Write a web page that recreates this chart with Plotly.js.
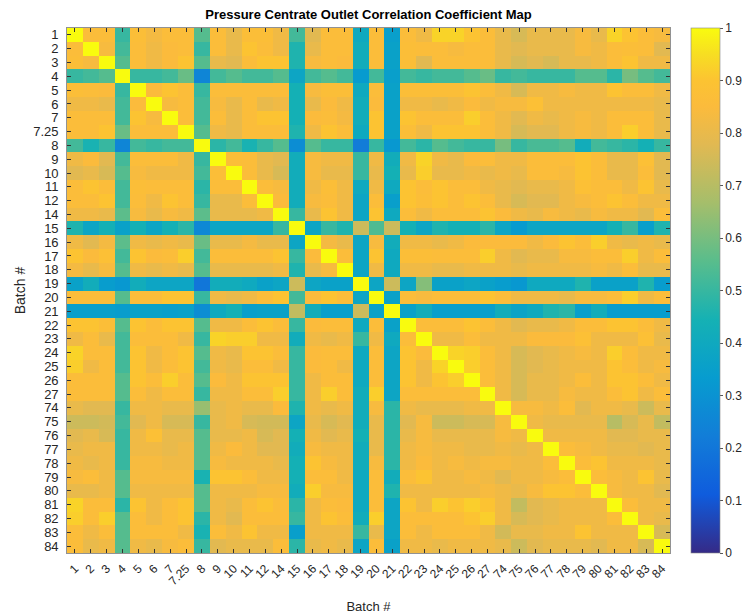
<!DOCTYPE html>
<html>
<head>
<meta charset="utf-8">
<script src="https://cdn.plot.ly/plotly-3.0.1.min.js"></script>
<style>
html,body{margin:0;padding:0;background:#fff;}
#chart{width:742px;height:615px;}
</style>
</head>
<body>
<div id="chart"></div>
<script>
// Batch labels (rows and columns of the correlation map)
const batches = ['1','2','3','4','5','6','7','7.25','8','9','10','11','12','14','15','16','17','18','19','20','21','22','23','24','25','26','27','74','75','76','77','78','79','80','81','82','83','84'];

// Correlation coefficients, one array per row (batch)
const row_1    = [1.00,.86,.86,.50,.87,.83,.86,.86,.55,.86,.80,.87,.87, .82,.52,.78,.86,.86,.40,.86,.35,.86,.82,.93,.93, .90,.86,.80,.76,.80,.80,.80,.84,.80,.93,.90,.86,.84];
const row_2    = [.86,1.00,.84,.52,.86,.82,.85,.86,.50,.86,.80,.90,.86, .82,.46,.80,.86,.86,.42,.86,.36,.87,.86,.86,.84, .86,.86,.80,.78,.80,.80,.80,.84,.82,.86,.87,.86,.78];
const row_3    = [.87,.84,1.00,.55,.86,.82,.85,.90,.55,.80,.78,.86,.90, .90,.46,.84,.86,.85,.42,.86,.36,.87,.78,.86,.86, .86,.86,.80,.76,.78,.76,.80,.80,.82,.86,.90,.82,.82];
const row_4    = [.50,.52,.55,1.00,.50,.50,.52,.58,.25,.52,.55,.52,.52, .55,.38,.52,.55,.52,.33,.52,.35,.52,.50,.52,.52, .55,.58,.50,.52,.50,.50,.50,.55,.55,.48,.60,.55,.52];
const row_5    = [.87,.86,.85,.50,1.00,.85,.90,.86,.50,.86,.86,.86,.86, .86,.44,.84,.87,.87,.40,.86,.36,.87,.87,.87,.87, .90,.86,.82,.76,.82,.82,.84,.82,.82,.90,.86,.86,.82];
const row_6    = [.82,.82,.80,.52,.85,1.00,.84,.86,.52,.84,.80,.86,.80, .82,.44,.80,.85,.82,.42,.85,.36,.82,.82,.80,.82, .85,.82,.84,.84,.88,.82,.82,.82,.82,.82,.82,.82,.80];
const row_7    = [.86,.86,.86,.52,.90,.84,1.00,.86,.52,.86,.80,.86,.90, .90,.44,.85,.86,.83,.42,.90,.36,.90,.86,.86,.86, .92,.86,.82,.78,.82,.80,.82,.84,.82,.86,.86,.86,.80];
const row_7_25 = [.86,.86,.90,.58,.86,.86,.86,1.00,.55,.82,.80,.86,.86, .86,.46,.82,.90,.86,.40,.90,.36,.87,.82,.90,.90, .90,.86,.82,.76,.78,.78,.82,.84,.82,.86,.92,.86,.80];
const row_8    = [.52,.45,.50,.25,.52,.50,.52,.52,1.00,.48,.52,.45,.50, .55,.28,.55,.50,.50,.22,.50,.32,.52,.48,.55,.52, .50,.50,.60,.50,.53,.53,.55,.42,.52,.50,.48,.44,.50];
const row_9    = [.82,.85,.78,.52,.86,.86,.86,.82,.50,1.00,.87,.86,.80, .78,.42,.84,.82,.82,.50,.82,.42,.82,.93,.82,.80, .85,.86,.82,.82,.86,.86,.86,.90,.86,.80,.80,.88,.78];
const row_10   = [.78,.80,.76,.55,.84,.82,.82,.82,.52,.87,1.00,.86,.80, .76,.42,.84,.80,.80,.50,.80,.44,.80,.92,.80,.80, .82,.80,.82,.80,.86,.86,.84,.90,.86,.80,.80,.86,.78];
const row_11   = [.86,.90,.86,.52,.87,.86,.86,.86,.48,.86,.86,1.00,.86, .84,.42,.82,.87,.82,.40,.82,.40,.90,.86,.90,.86, .86,.82,.80,.78,.80,.80,.82,.88,.86,.86,.82,.90,.80];
const row_12   = [.86,.86,.90,.52,.86,.82,.90,.86,.50,.80,.80,.86,1.00, .85,.42,.84,.86,.82,.38,.86,.35,.90,.87,.90,.86, .90,.86,.80,.76,.78,.78,.82,.84,.86,.90,.86,.82,.82];
const row_14   = [.82,.82,.80,.56,.84,.80,.84,.82,.56,.80,.80,.80,.82, 1.00,.50,.80,.90,.82,.38,.90,.40,.86,.82,.86,.86, .86,.90,.85,.82,.80,.84,.82,.80,.84,.82,.82,.78,.86];
const row_15   = [.46,.38,.44,.36,.44,.38,.44,.48,.26,.38,.38,.38,.38, .50,1.00,.38,.50,.46,.74,.54,.74,.44,.38,.46,.44, .44,.48,.38,.33,.38,.38,.38,.38,.38,.44,.50,.35,.46];
const row_16   = [.82,.78,.83,.56,.82,.80,.82,.80,.58,.80,.80,.83,.80, .80,.38,1.00,.83,.80,.38,.84,.42,.82,.82,.80,.82, .85,.85,.85,.85,.82,.85,.90,.86,.92,.82,.80,.82,.80];
const row_17   = [.90,.85,.88,.52,.90,.85,.86,.92,.52,.86,.86,.86,.86, .90,.50,.85,1.00,.86,.38,.90,.40,.87,.87,.86,.86, .86,.92,.82,.78,.80,.80,.84,.84,.86,.86,.92,.82,.86];
const row_18   = [.83,.80,.84,.55,.82,.80,.82,.80,.55,.80,.80,.80,.80, .82,.46,.80,.84,1.00,.38,.82,.40,.82,.82,.80,.80, .82,.82,.82,.80,.82,.82,.82,.82,.84,.82,.86,.80,.80];
const row_19   = [.36,.42,.34,.32,.42,.38,.38,.38,.20,.42,.42,.40,.36, .38,.74,.38,.36,.36,1.00,.38,.74,.38,.62,.36,.36, .38,.36,.34,.32,.40,.40,.40,.46,.36,.36,.36,.46,.34];
const row_20   = [.86,.86,.86,.55,.86,.86,.90,.90,.50,.82,.80,.82,.86, .90,.52,.85,.90,.86,.38,1.00,.36,.86,.84,.86,.86, .86,.90,.86,.82,.82,.82,.80,.84,.84,.86,.92,.82,.86];
const row_21   = [.35,.35,.35,.34,.36,.36,.35,.36,.28,.40,.44,.35,.36, .36,.72,.42,.35,.35,.74,.36,1.00,.36,.42,.35,.35, .35,.35,.42,.37,.40,.46,.48,.35,.42,.34,.34,.34,.34];
const row_22   = [.90,.90,.87,.55,.90,.86,.90,.90,.55,.82,.82,.86,.90, .86,.50,.85,.86,.86,.40,.86,.36,1.00,.86,.86,.86, .90,.86,.82,.78,.80,.80,.82,.86,.86,.90,.90,.86,.82];
const row_23   = [.82,.86,.80,.52,.86,.86,.86,.82,.50,.93,.92,.92,.82, .82,.42,.82,.80,.82,.50,.82,.40,.86,1.00,.82,.82, .86,.82,.82,.82,.85,.85,.85,.88,.82,.82,.82,.88,.80];
const row_24   = [.93,.86,.86,.52,.90,.82,.86,.90,.55,.82,.80,.90,.90, .86,.50,.85,.86,.86,.40,.86,.38,.90,.85,1.00,.93, .92,.86,.82,.76,.78,.80,.82,.84,.82,.92,.86,.82,.82];
const row_25   = [.92,.82,.86,.52,.90,.82,.86,.90,.52,.82,.80,.86,.86, .82,.50,.85,.86,.82,.40,.86,.38,.90,.82,.93,1.00, .92,.86,.82,.76,.78,.80,.82,.82,.82,.90,.86,.82,.84];
const row_26   = [.86,.86,.86,.55,.90,.86,.92,.86,.55,.85,.82,.90,.90, .90,.50,.82,.86,.86,.40,.86,.38,.90,.82,.90,.92, 1.00,.86,.82,.76,.80,.80,.82,.86,.82,.90,.90,.86,.82];
const row_27   = [.86,.86,.86,.55,.86,.82,.86,.86,.50,.82,.82,.86,.86, .92,.50,.82,.92,.86,.42,.92,.38,.86,.86,.86,.86, .86,1.00,.82,.76,.80,.80,.84,.82,.82,.86,.90,.82,.86];
const row_74   = [.80,.78,.78,.50,.82,.82,.80,.80,.65,.80,.82,.80,.80, .85,.46,.82,.80,.82,.42,.84,.48,.82,.80,.80,.80, .82,.82,1.00,.84,.84,.82,.86,.78,.82,.82,.80,.74,.80];
const row_75   = [.74,.74,.75,.52,.78,.82,.76,.76,.50,.80,.82,.76,.75, .75,.38,.80,.76,.78,.42,.80,.48,.78,.84,.74,.74, .76,.76,.84,1.00,.82,.80,.80,.80,.80,.70,.76,.80,.72];
const row_76   = [.78,.80,.76,.50,.82,.88,.80,.80,.55,.80,.80,.82,.76, .78,.44,.82,.78,.80,.44,.80,.48,.80,.84,.80,.80, .80,.80,.84,.82,1.00,.82,.82,.82,.82,.78,.78,.80,.80];
const row_77   = [.80,.82,.82,.50,.82,.82,.80,.82,.55,.82,.85,.82,.78, .78,.42,.84,.82,.82,.42,.80,.48,.82,.84,.82,.82, .80,.80,.82,.80,.82,1.00,.86,.84,.82,.80,.80,.78,.80];
const row_78   = [.82,.80,.82,.50,.84,.84,.82,.82,.55,.84,.82,.82,.82, .80,.44,.90,.84,.82,.42,.84,.48,.82,.85,.82,.84, .82,.84,.84,.82,.82,.86,1.00,.86,.90,.82,.82,.82,.80];
const row_79   = [.84,.86,.82,.55,.84,.84,.84,.84,.45,.90,.90,.86,.82, .82,.44,.86,.86,.82,.40,.86,.42,.86,.90,.82,.82, .84,.82,.78,.82,.82,.84,.86,1.00,.86,.84,.82,.90,.80];
const row_80   = [.80,.80,.82,.55,.82,.82,.82,.82,.55,.82,.82,.82,.84, .84,.42,.92,.84,.84,.40,.86,.46,.82,.82,.82,.82, .82,.84,.82,.80,.84,.90,.90,.86,1.00,.84,.82,.82,.78];
const row_81   = [.93,.86,.86,.48,.90,.82,.86,.90,.55,.82,.80,.86,.90, .86,.48,.82,.86,.85,.40,.86,.38,.90,.82,.92,.90, .92,.90,.82,.72,.78,.80,.82,.82,.82,1.00,.86,.82,.82];
const row_82   = [.92,.86,.92,.55,.86,.82,.86,.90,.48,.82,.78,.86,.86, .86,.50,.82,.90,.86,.42,.92,.38,.86,.86,.86,.86, .90,.92,.82,.76,.78,.80,.82,.82,.82,.86,1.00,.82,.80];
const row_83   = [.86,.82,.86,.55,.86,.86,.86,.82,.45,.86,.82,.90,.82, .82,.35,.82,.82,.82,.50,.80,.38,.86,.82,.86,.86, .86,.82,.75,.80,.80,.82,.82,.90,.82,.82,.82,1.00,.76];
const row_84   = [.86,.80,.82,.55,.82,.80,.84,.86,.50,.78,.80,.80,.80, .86,.48,.80,.82,.80,.38,.86,.36,.82,.82,.80,.82, .82,.82,.80,.74,.78,.80,.80,.80,.78,.82,.82,.76,1.00];

// Colour-bar tick values and labels
const cbTickVals = [0,0.1,0.2,0.3,0.4,0.5,0.6,0.7,0.8,0.9,1];
const cbTickText = ['0','0.1','0.2','0.3','0.4','0.5','0.6','0.7','0.8','0.9','1'];

const z = [row_1,row_2,row_3,row_4,row_5,row_6,row_7,row_7_25,row_8,row_9,row_10,row_11,row_12,row_14,row_15,row_16,row_17,row_18,row_19,row_20,row_21,row_22,row_23,row_24,row_25,row_26,row_27,row_74,row_75,row_76,row_77,row_78,row_79,row_80,row_81,row_82,row_83,row_84];

// MATLAB parula-like colour scale
const parula = [
  [0.000,'rgb(53,42,135)'],
  [0.111,'rgb(15,92,221)'],
  [0.222,'rgb(18,125,216)'],
  [0.333,'rgb(7,156,207)'],
  [0.444,'rgb(21,177,180)'],
  [0.556,'rgb(89,189,140)'],
  [0.667,'rgb(165,190,107)'],
  [0.778,'rgb(225,185,82)'],
  [0.850,'rgb(251,187,60)'],
  [0.900,'rgb(252,195,50)'],
  [0.950,'rgb(247,222,34)'],
  [1.000,'rgb(249,251,14)']
];

const font = 'Liberation Sans, Arial, Helvetica, sans-serif';
const axisColor = '#262626';

const trace = {
  type: 'heatmap',
  x: batches,
  y: batches,
  z: z,
  zmin: 0,
  zmax: 1,
  colorscale: parula,
  xgap: 0,
  ygap: 0,
  colorbar: {
    x: 1.035,
    xanchor: 'left',
    xpad: 0,
    y: 0.5,
    yanchor: 'middle',
    ypad: 0,
    len: 1.0,
    lenmode: 'fraction',
    thickness: 29,
    thicknessmode: 'pixels',
    outlinewidth: 0.6,
    outlinecolor: '#888',
    tickmode: 'array',
    tickvals: cbTickVals,
    ticktext: cbTickText,
    ticks: 'outside',
    ticklen: 3,
    tickcolor: '#555',
    tickfont: {family: font, size: 12, color: axisColor}
  }
};

const layout = {
  width: 742,
  height: 615,
  margin: {l: 67, r: 72, t: 28, b: 62, autoexpand: false},
  paper_bgcolor: '#ffffff',
  plot_bgcolor: '#ffffff',
  title: {
    text: '<b>Pressure Centrate Outlet Correlation Coefficient Map</b>',
    font: {family: font, size: 13, color: '#000'},
    x: 0.5,
    xref: 'paper',
    xanchor: 'center',
    y: 1,
    yref: 'container',
    yanchor: 'top',
    pad: {t: 10}
  },
  xaxis: {
    type: 'category',
    tickmode: 'array',
    tickvals: batches,
    ticktext: batches,
    tickangle: -45,
    ticks: 'inside',
    ticklen: 4,
    tickcolor: '#333',
    ticklabelstandoff: 3,
    showline: true,
    linecolor: '#777',
    linewidth: 0.8,
    mirror: 'ticks',
    showgrid: false,
    zeroline: false,
    tickfont: {family: font, size: 12, color: axisColor},
    title: {text: 'Batch #', font: {family: font, size: 13, color: axisColor}, standoff: 14}
  },
  yaxis: {
    type: 'category',
    autorange: 'reversed',
    tickmode: 'array',
    tickvals: batches,
    ticktext: batches,
    ticks: 'inside',
    ticklen: 4,
    tickcolor: '#333',
    ticklabelstandoff: 5,
    showline: true,
    linecolor: '#777',
    linewidth: 0.8,
    mirror: 'ticks',
    showgrid: false,
    zeroline: false,
    tickfont: {family: font, size: 13, color: axisColor},
    title: {text: 'Batch #', font: {family: font, size: 14, color: axisColor}, standoff: 4}
  }
};

Plotly.newPlot('chart', [trace], layout, {displayModeBar: false, staticPlot: true});
</script>
</body>
</html>
